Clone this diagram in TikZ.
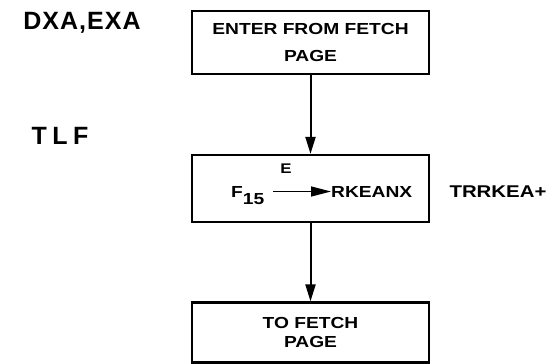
\documentclass[tikz,border=0pt]{standalone}
\usepackage{fontspec}
\setmainfont{Liberation Sans}
\newfontfamily\boxfont[FakeStretch=1.2]{Liberation Sans}
\newfontfamily\labfont[LetterSpace=4]{Liberation Sans}
\newfontfamily\tlffont[LetterSpace=22]{Liberation Sans}
\usetikzlibrary{arrows.meta}
\begin{document}
\begin{tikzpicture}[x=1pt,y=-1pt,
  blk/.style={draw,line width=2.2pt,minimum width=237pt,inner sep=0pt,align=center,
    font=\boxfont\bfseries\fontsize{16}{27}\selectfont},
  flow/.style={line width=2pt,-{Triangle[width=10pt,length=17pt]}},
  txt/.style={inner sep=0pt,font=\boxfont\bfseries\fontsize{16}{18}\selectfont},
  side/.style={inner sep=0pt,font=\labfont\bfseries\fontsize{25}{30}\selectfont}]
\useasboundingbox (0,0) rectangle (549,364);
\node[blk,minimum height=63pt] (b1) at (310.5,42.5) {ENTER FROM FETCH\\PAGE};
\node[blk,minimum height=67pt] (b2) at (310.5,188.5) {};
\node[blk,minimum height=60pt,font=\boxfont\bfseries\fontsize{16}{19}\selectfont] (b3) at (310.5,332.5) {TO FETCH\\PAGE};
\draw[flow] (b1.south) -- (b2.north);
\draw[flow] (b2.south) -- (b3.north);
\node[txt,anchor=west,text height=11.5pt,text depth=0pt,inner xsep=0pt] (f) at (231,191.5) {F\raisebox{-7pt}{15}};
\node[txt,anchor=west,text height=11.5pt,text depth=0pt] (r) at (331,191.5) {RKEANX};
\draw[line width=1.4pt,-{Triangle[width=10pt,length=20pt]}] ([xshift=9pt]f.east) -- (r.west);
\node[txt,font=\boxfont\bfseries\fontsize{14}{16}\selectfont] (e) at (286,169) {E};
\node[txt,font=\boxfont\bfseries\fontsize{17}{18}\selectfont] (t) at (498,192) {TRRKEA+};
\node[side] (dxa) at (82,23) {DXA,EXA};
\node[side,font=\tlffont\bfseries\fontsize{25}{28}\selectfont] (tlf) at (60,136) {TLF};
\end{tikzpicture}
\end{document}
